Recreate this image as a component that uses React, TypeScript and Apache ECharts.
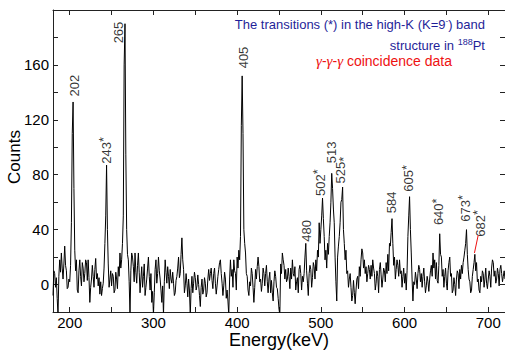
import React, { useEffect, useRef } from 'react';
import * as echarts from 'echarts';

// Spectrum: 1 keV bins starting at 180 keV (one row = 20 keV)
const binStart = 180;
const binWidth = 1;
const counts = [
  -8, 10, 8, -2, 5, -10, -22, 6, 18, 9, 23, 12, 4, 15, 28, 14, 10, -3, -2, 4,
  2, 14, 45, 110, 133, 70, 25, 10, 18, -4, -6, 10, 18, 6, -1, 16, 12, 2, 8, 18,
  16, 3, 18, 5, -13, -2, 4, 14, 6, -2, 11, 19, 4, 8, -1, 5, -7, 2, -8, -3,
  1, 12, 30, 50, 87, 40, 15, -2, 4, 10, -1, 8, 6, -6, -4, 9, 4, -3, 13, 6,
  23, 12, 18, 30, 50, 160, 190, 95, 40, 22, 18, 2, -22, 10, 23, 20, 13, 2, 23, 9,
  1, 14, 23, 9, -6, 4, 13, -2, 6, 15, -8, -2, 4, 12, 20, 6, -4, 8, -13, -5,
  -22, -6, 11, 18, 1, 8, 20, 10, 4, -4, -13, -1, -22, 2, 18, 9, 1, 13, 6, -3,
  11, 4, 1, 9, 1, -8, -6, 3, 6, 12, 20, 5, 8, 22, 34, 18, 11, -6, -1, 8,
  1, -9, 4, -4, -22, -3, 6, -6, 1, 9, 5, -4, -1, 7, 0, -8, -16, -2, 4, -7,
  -4, 5, 1, -9, -6, 4, 11, 3, 8, 12, 3, -3, 8, 12, 1, -7, -1, 6, 11, 16,
  18, 8, 1, -8, -1, 9, 4, -10, -4, -12, -22, 4, 18, 6, 11, -2, 18, 10, 8, -4,
  20, 12, 25, 18, 35, 116, 152, 110, 40, 30, 23, 8, 6, -4, -8, 2, -1, 12, 8, -2,
  -13, -2, 11, 4, 13, 20, 13, 2, 4, -5, 1, 12, 8, -1, 8, 14, 2, -6, 4, 9,
  -6, 3, -6, -12, 2, 10, 6, -2, -3, -10, -18, -22, 15, 8, 23, 18, 14, 4, 11, 2,
  4, 12, 6, -3, 12, 4, 18, 8, 6, 13, -4, 2, 5, -6, 11, 14, 8, -4, 6, 2,
  8, 20, 30, 10, 1, -8, 8, 14, 11, -2, 5, 16, 13, 4, 18, 10, 25, 20, 45, 30,
  40, 50, 63, 48, 35, 18, 25, 12, 30, 22, 35, 45, 60, 81, 70, 55, 45, 20, 2, -12,
  20, 28, 35, 45, 60, 62, 71, 40, 30, 18, 25, 8, 10, -2, 4, 8, -2, -12, -8, 3,
  -6, -14, -4, 4, 6, -3, 13, 6, 18, 26, 23, 12, 18, 8, 13, 2, 8, 14, 11, 4,
  14, 6, 18, 12, 8, -4, 1, 10, 6, -6, 11, 16, 7, -2, 4, 12, 10, 2, 16, 8,
  22, 10, 30, 28, 38, 48, 30, 14, 20, 4, 11, 18, 14, 6, 18, 8, 10, -2, 6, 12,
  1, 8, -4, 10, 35, 50, 64, 40, 23, 4, -12, 2, 0, 9, 4, -3, 8, 14, 11, 2,
  8, -2, 6, 12, 2, -6, -1, 6, 2, -5, 4, 10, 14, 6, 23, 12, 18, 4, 16, 3,
  1, 14, 37, 22, 20, 6, 11, -2, 6, 12, 1, -4, 10, 16, 20, 6, 8, -6, -4, 5,
  0, -8, 4, 10, 8, -3, 11, 4, 14, 8, 16, 20, 25, 30, 40, 22, 11, 4, 2, -6,
  -4, 6, 11, 16, 22, 10, 16, 2, 4, -4, -6, 6, 2, 10, 8, -2, 4, 12, 1, -3,
  4, 10, 6, -2, 12, 18, 16, 6, 10, 1, 4, 12, 8, -1, 11, 14, 8, 2, 6, 10, 4,
];

// Peak labels
const peakNames = ['202', '243', '265', '405', '480', '502', '513', '525', '584', '605', '640', '673', '682'];
const peakStar = ['', 'u', '', '', '', 'u', '', 'w', '', 'u', 'u', 'u', 'u'];
const labelEnergy = [206, 243.8, 258.7, 407.4, 483.4, 499.5, 513.2, 523.6, 584.8, 604.8, 640.6, 672.3, 690.2];
const labelCount = [137, 88, 175.7, 157.5, 31.2, 64.5, 88.3, 73.7, 51.9, 67.6, 43.3, 45.7, 34.8];

// leader line for 682 label
const leaderEnergy = [683.5, 688];
const leaderCount = [23, 36];

const xTickValues = [200, 250, 300, 350, 400, 450, 500, 550, 600, 650, 700];
const xLabelValues = [200, 300, 400, 500, 600, 700];
const yTickValues = [0, 20, 40, 60, 80, 100, 120, 140, 160, 180];
const yLabelValues = [0, 40, 80, 120, 160];

const FONT = "'Liberation Sans', Arial, Helvetica, sans-serif";
const AXIS_COLOR = '#222';

export default function App() {
  const ref = useRef<HTMLDivElement>(null);

  useEffect(() => {
    if (!ref.current) return;
    const chart = echarts.init(ref.current, undefined, { renderer: 'svg' });

    const spectrum = counts.map((c, i) => [binStart + i * binWidth, c]);
    const labels = peakNames.map((n, i) => ({
      value: [labelEnergy[i], labelCount[i]],
      name: n,
      star: peakStar[i],
    }));

    const axisBase = {
      type: 'value' as const,
      axisLine: { show: true, onZero: false, lineStyle: { color: AXIS_COLOR, width: 1 } },
      splitLine: { show: false },
    };

    chart.setOption({
      animation: false,
      grid: { left: 53, top: 10, width: 452, height: 302, containLabel: false, outerBoundsMode: 'none' },
      xAxis: [
        {
          ...axisBase,
          position: 'bottom',
          min: 180,
          max: 720,
          axisTick: { show: true, inside: true, length: 5, customValues: xTickValues, lineStyle: { color: AXIS_COLOR } },
          axisLabel: { show: true, customValues: xLabelValues, fontSize: 15, color: '#000', fontFamily: FONT, margin: 3 },
          name: 'Energy(keV)',
          nameLocation: 'middle',
          nameGap: 19,
          nameMoveOverlap: false,
          nameTextStyle: { fontSize: 18, color: '#000', fontFamily: FONT },
        },
        {
          ...axisBase,
          position: 'top',
          min: 180,
          max: 720,
          axisTick: { show: true, inside: true, length: 5, customValues: xTickValues, lineStyle: { color: AXIS_COLOR } },
          axisLabel: { show: false },
        },
      ],
      yAxis: [
        {
          ...axisBase,
          position: 'left',
          min: -20,
          max: 200,
          axisTick: { show: true, inside: true, length: 5, customValues: yTickValues, lineStyle: { color: AXIS_COLOR } },
          axisLabel: { show: true, customValues: yLabelValues, fontSize: 15, color: '#000', fontFamily: FONT, margin: 4 },
        },
        {
          ...axisBase,
          position: 'right',
          min: -20,
          max: 200,
          axisTick: { show: true, inside: true, length: 5, customValues: yTickValues, lineStyle: { color: AXIS_COLOR } },
          axisLabel: { show: false },
        },
      ],
      series: [
        {
          type: 'line',
          data: spectrum,
          showSymbol: false,
          symbol: 'none',
          clip: true,
          silent: true,
          lineStyle: { color: '#000', width: 1 },
        },
        {
          type: 'line',
          data: leaderEnergy.map((e, i) => [e, leaderCount[i]]),
          showSymbol: false,
          symbol: 'none',
          silent: true,
          lineStyle: { color: '#ee1111', width: 1 },
        },
        {
          type: 'scatter',
          data: labels,
          symbolSize: 1,
          silent: true,
          itemStyle: { color: 'transparent' },
          label: {
            show: true,
            position: 'inside',
            rotate: 90,
            align: 'left',
            verticalAlign: 'middle',
            formatter: (p: any) => {
              const s = p.data.star;
              return s ? `{d|${p.data.name}}{${s}|*}` : `{d|${p.data.name}}`;
            },
            rich: {
              d: { fontSize: 13, lineHeight: 18, color: '#000', fontFamily: FONT },
              u: { fontSize: 13, lineHeight: 8, verticalAlign: 'top', color: '#000', fontFamily: FONT },
              w: { fontSize: 13, lineHeight: 6, verticalAlign: 'bottom', color: '#000', fontFamily: FONT },
            },
          },
        },
      ],
      graphic: [
        {
          type: 'text',
          x: 14,
          y: 157,
          rotation: Math.PI / 2,
          silent: true,
          style: {
            text: 'Counts',
            align: 'center',
            verticalAlign: 'middle',
            fontSize: 17,
            fontFamily: FONT,
            fill: '#000',
          },
        },
        {
          type: 'text',
          x: 485,
          y: 24,
          silent: true,
          style: {
            text: '{b|The transitions (*) in the high-K (K=9}{sup|-}{b|) band}',
            align: 'right',
            verticalAlign: 'middle',
            rich: {
              b: { fontSize: 13, lineHeight: 16, fill: '#1f1f99', fontFamily: FONT },
              sup: { fontSize: 8, lineHeight: 8, verticalAlign: 'top', fill: '#1f1f99', fontFamily: FONT },
            },
          },
        },
        {
          type: 'text',
          x: 485,
          y: 45,
          silent: true,
          style: {
            text: '{b|structure in }{sup|188}{b|Pt}',
            align: 'right',
            verticalAlign: 'middle',
            rich: {
              b: { fontSize: 13, lineHeight: 16, fill: '#1f1f99', fontFamily: FONT },
              sup: { fontSize: 9, lineHeight: 9, verticalAlign: 'top', fill: '#1f1f99', fontFamily: FONT },
            },
          },
        },
        {
          type: 'text',
          x: 316,
          y: 61,
          silent: true,
          style: {
            text: '{g|γ}{r|-}{g|γ}{r|-}{g|γ}{r| coincidence data}',
            align: 'left',
            verticalAlign: 'middle',
            rich: {
              g: { fontSize: 15, lineHeight: 16, fontStyle: 'italic', fill: '#ee1111', fontFamily: "'Liberation Serif', 'DejaVu Serif', serif" },
              r: { fontSize: 14, lineHeight: 16, fill: '#ee1111', fontFamily: FONT },
            },
          },
        },
      ],
    });

    return () => {
      chart.dispose();
    };
  }, []);

  return (
    <div
      ref={ref}
      style={{ position: 'fixed', left: 0, top: 0, width: 505, height: 354, background: '#fff' }}
    />
  );
}
